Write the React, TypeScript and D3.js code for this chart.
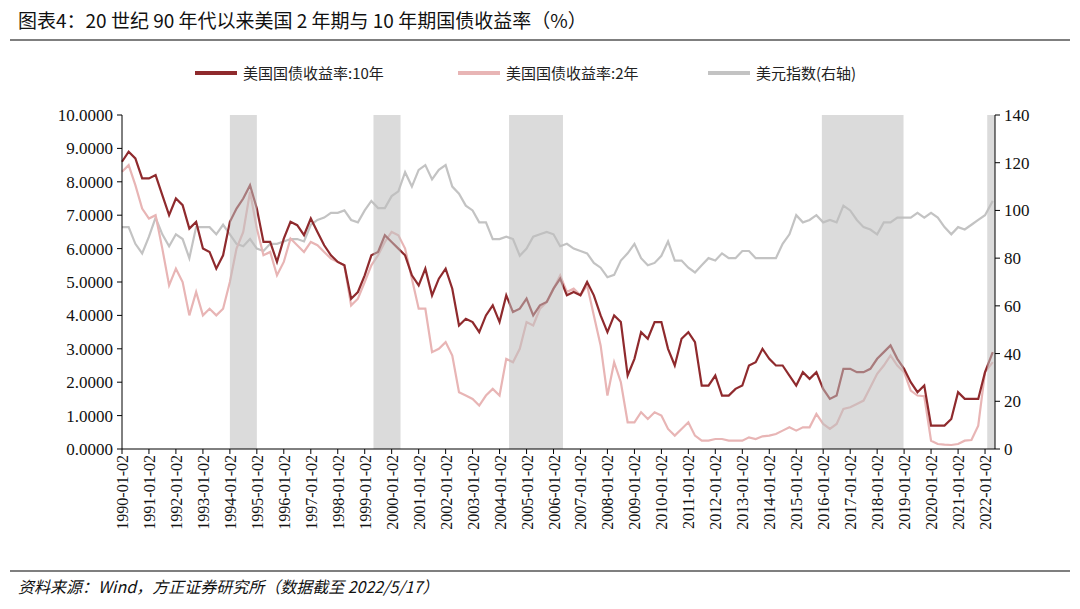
import React from "react";
import * as d3 from "d3";

const years = d3.range(1990, 2023);
const y10 = [8.6,8.9,8.7,8.1, 8.1,8.2,7.6,7.0, 7.5,7.3,6.6,6.8, 6.0,5.9,5.4,5.8, 6.8,7.2,7.5,7.9, 7.2,6.2,6.2,5.6, 6.3,6.8,6.7,6.4, 6.9,6.5,6.1,5.8, 5.6,5.5,4.5,4.7, 5.2,5.8,5.9,6.4, 6.2,6.0,5.8,5.2, 4.9,5.4,4.6,5.1, 5.4,4.8,3.7,3.9, 3.8,3.5,4.0,4.3, 3.8,4.6,4.1,4.2, 4.5,4.0,4.3,4.4, 4.8,5.1,4.6,4.7, 4.6,5.0,4.6,4.0, 3.5,4.0,3.8,2.2, 2.7,3.5,3.3,3.8, 3.8,3.0,2.5,3.3, 3.5,3.2,1.9,1.9, 2.2,1.6,1.6,1.8, 1.9,2.5,2.6,3.0, 2.7,2.5,2.5,2.2, 1.9,2.3,2.1,2.3, 1.8,1.5,1.6,2.4, 2.4,2.3,2.3,2.4, 2.7,2.9,3.1,2.7, 2.4,2.0,1.7,1.9, 0.7,0.7,0.7,0.9, 1.7,1.5,1.5,1.5, 2.3,2.9];
const y2 = [8.3,8.5,7.9,7.2, 6.9,7.0,6.0,4.9, 5.4,5.0,4.0,4.7, 4.0,4.2,4.0,4.2, 5.0,6.0,6.5,7.7, 6.6,5.8,5.9,5.2, 5.6,6.3,6.1,5.9, 6.2,6.1,5.9,5.7, 5.6,5.5,4.3,4.5, 5.0,5.5,5.8,6.2, 6.5,6.4,6.0,5.1, 4.2,4.2,2.9,3.0, 3.2,2.8,1.7,1.6, 1.5,1.3,1.6,1.8, 1.6,2.7,2.6,3.0, 3.8,3.7,4.2,4.4, 4.8,5.2,4.7,4.8, 4.6,4.9,4.0,3.1, 1.6,2.6,2.0,0.8, 0.8,1.1,0.9,1.1, 1.0,0.6,0.4,0.6, 0.8,0.4,0.25,0.25, 0.3,0.3,0.25,0.25, 0.25,0.35,0.3,0.38, 0.4,0.45,0.55,0.65, 0.55,0.65,0.65,1.05, 0.75,0.6,0.75,1.2, 1.25,1.35,1.45,1.85, 2.25,2.5,2.8,2.5, 2.3,1.75,1.6,1.58, 0.25,0.15,0.13,0.12, 0.15,0.25,0.27,0.7, 2.3,2.6];
const dxy = [93,93,86,82, 89,97,90,85, 90,88,80,93, 93,93,90,94, 90,86,85,88, 84,83,86,86, 87,88,88,87, 94,96,97,99, 99,100,96,95, 100,104,101,101, 106,108,116,110, 117,119,113,117, 119,110,107,102, 100,95,95,88, 88,89,88,81, 84,89,90,91, 90,85,86,84, 83,82,78,76, 72,73,79,82, 86,80,77,78, 81,87,79,79, 76,74,77,80, 79,82,80,80, 83,83,80,80, 80,80,86,90, 98,95,96,98, 95,96,95,102, 100,96,93,92, 90,95,95,97, 97,97,99,97, 99,97,93,90, 93,92,94,96, 98,104];
const bands: [string, string][] = [["1994-01-02","1995-01-02"],["1999-05-01","2000-05-01"],["2004-05-10","2006-05-10"],["2015-12-15","2018-12-25"],["2022-02-01","2022-05-17"]];
const leftTicks = [0,1,2,3,4,5,6,7,8,9,10];
const rightTicks = [0,20,40,60,80,100,120,140];

const X0 = 122, X1 = 995, YT = 115, YB = 449;
const x = d3.scaleTime().domain([new Date(1990,0,2), new Date(2022,4,17)]).range([X0, X1]);
const yl = d3.scaleLinear().domain([0,10]).range([YB, YT]);
const yr = d3.scaleLinear().domain([0,140]).range([YB, YT]);
const dates = y10.map((_, i) => new Date(1990, 3*i, 2 + (i === y10.length-1 ? 15 : 0)));
const lineL = d3.line<number>().x((_, i) => x(dates[i])).y(v => yl(v)).curve(d3.curveLinear);
const lineR = d3.line<number>().x((_, i) => x(dates[i])).y(v => yr(v));

const C10 = "#8f2a2d", C2 = "#e8b5b5", CD = "#c3c3c3";
const serif = "'Liberation Serif', 'Noto Sans CJK SC', serif";
const cjk = "'Noto Sans CJK SC', sans-serif";

export default function App() {
  return (
    <svg width={1080} height={609} style={{ position: "absolute", left: 0, top: 0, background: "#fff" }}>
      <text x={18} y={28} fontFamily={cjk} fontSize={19} fill="#111">图表4：20 世纪 90 年代以来美国 2 年期与 10 年期国债收益率（%）</text>
      <line x1={10} x2={1070} y1={40} y2={40} stroke="#000" strokeWidth={1.2} />
      {[["美国国债收益率:10年", C10, 195], ["美国国债收益率:2年", C2, 458], ["美元指数(右轴)", CD, 708]].map(([t, c, lx]) => (
        <g key={t as string}>
          <line x1={lx as number} x2={(lx as number) + 42} y1={73} y2={73} stroke={c as string} strokeWidth={4} />
          <text x={(lx as number) + 48} y={79} fontFamily={cjk} fontSize={15} fill="#222">{t}</text>
        </g>
      ))}
      <path d={lineR(dxy)!} fill="none" stroke={CD} strokeWidth={2.2} />
      <path d={lineL(y2)!} fill="none" stroke={C2} strokeWidth={2.2} />
      <path d={lineL(y10)!} fill="none" stroke={C10} strokeWidth={2.2} />
      {bands.map(([a, b]) => (
        <rect key={a} x={x(new Date(a))} width={x(new Date(b)) - x(new Date(a))} y={YT} height={YB - YT} fill="#bdbdbd" opacity={0.55} />
      ))}
      <line x1={X0} x2={X0} y1={YT} y2={YB} stroke="#000" />
      <line x1={X1} x2={X1} y1={YT} y2={YB} stroke="#000" />
      <line x1={X0} x2={X1} y1={YB} y2={YB} stroke="#000" />
      {leftTicks.map(t => (
        <g key={t}>
          <line x1={X0 - 5} x2={X0} y1={yl(t)} y2={yl(t)} stroke="#000" />
          <text x={X0 - 9} y={yl(t) + 6} textAnchor="end" fontFamily={serif} fontSize={17} fill="#111">{t.toFixed(4)}</text>
        </g>
      ))}
      {rightTicks.map(t => (
        <g key={t}>
          <line x1={X1} x2={X1 + 5} y1={yr(t)} y2={yr(t)} stroke="#000" />
          <text x={X1 + 9} y={yr(t) + 6} fontFamily={serif} fontSize={17} fill="#111">{t}</text>
        </g>
      ))}
      {years.map(yv => {
        const px = x(new Date(yv, 0, 2));
        return (
          <g key={yv}>
            <line x1={px} x2={px} y1={YB} y2={YB + 5} stroke="#000" />
            <text transform={`translate(${px + 6},${YB + 6}) rotate(-90)`} textAnchor="end" fontFamily={serif} fontSize={16} fill="#111">{`${yv}-01-02`}</text>
          </g>
        );
      })}
      <line x1={10} x2={1070} y1={571} y2={571} stroke="#000" strokeWidth={1.2} />
      <text x={18} y={593} fontFamily={cjk} fontSize={16} fontStyle="italic" fill="#111">资料来源：Wind，方正证券研究所（数据截至 2022/5/17）</text>
    </svg>
  );
}
